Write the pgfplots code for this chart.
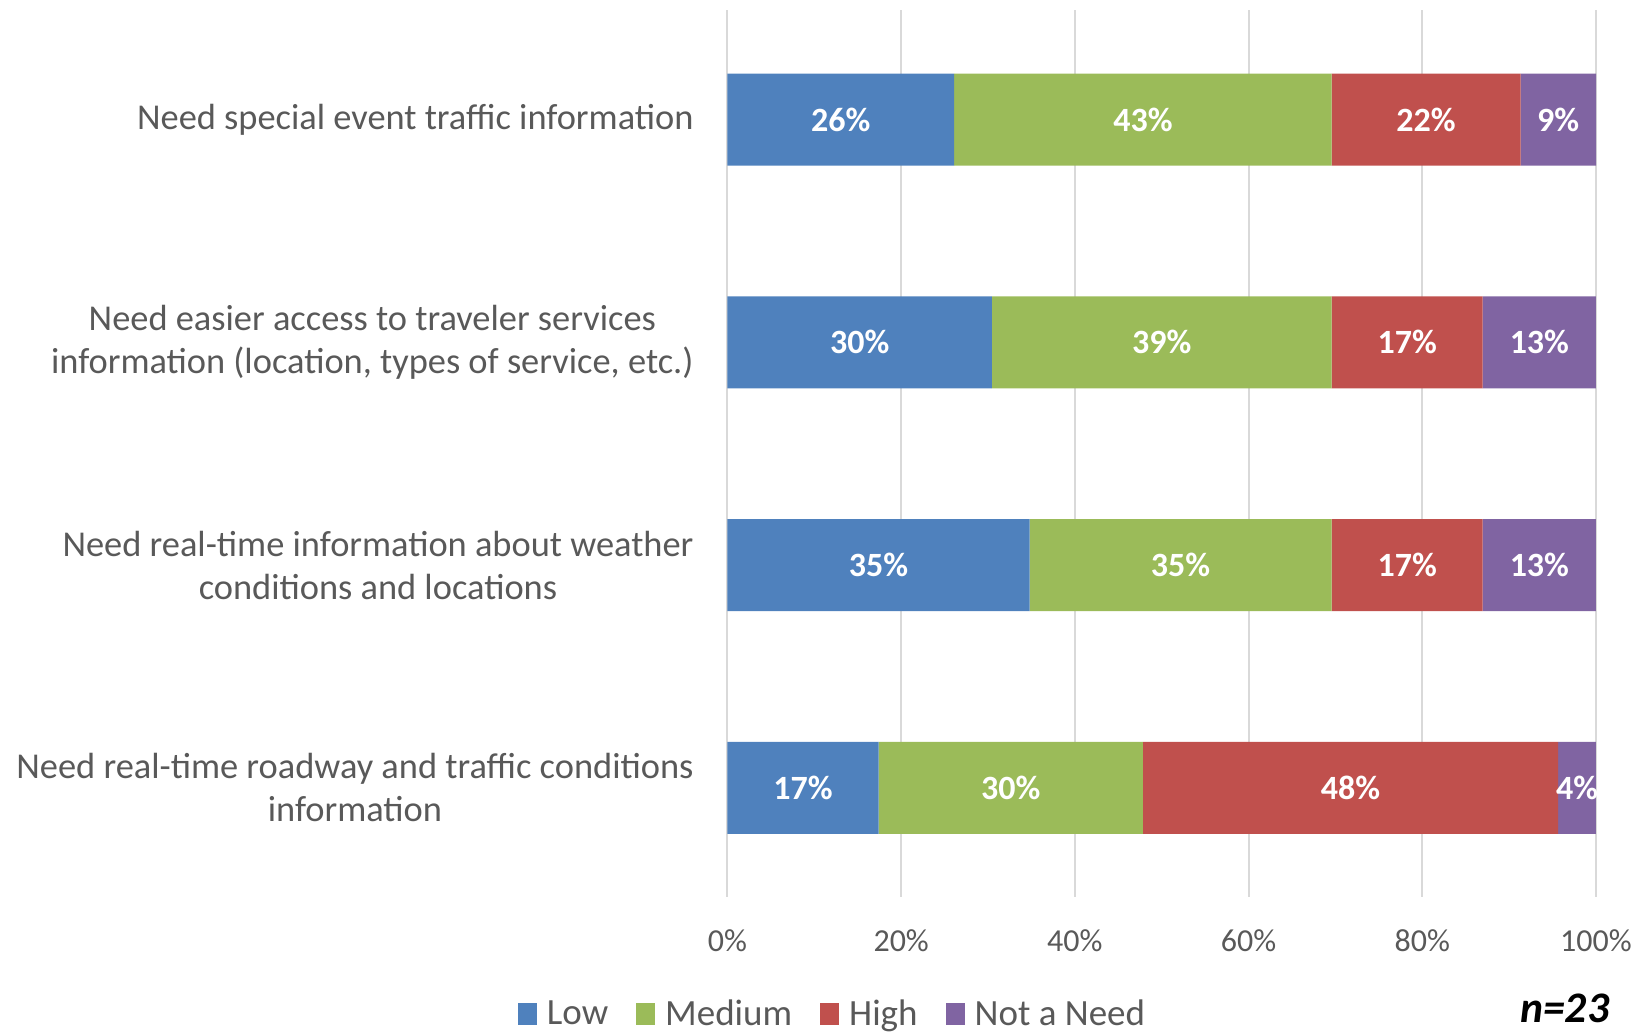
\documentclass[border=0pt]{standalone}
\usepackage{pgfplots}
\pgfplotsset{compat=1.18}
\usepackage{fontspec}
\setmainfont{Carlito}
\definecolor{cLow}{HTML}{4F81BD}
\definecolor{cMed}{HTML}{9BBB59}
\definecolor{cHigh}{HTML}{C0504D}
\definecolor{cNot}{HTML}{8064A2}
\definecolor{gridgray}{HTML}{D9D9D9}
\definecolor{labelgray}{HTML}{595959}
\pgfplotsset{sqleg/.style={legend image code/.code={\fill[##1] (0pt,-5.3pt) rectangle (9.5pt,5.3pt);}}}
\begin{document}
\begin{tikzpicture}
\begin{axis}[name=main,
  xbar stacked, bar width=46pt,
  scale only axis, width=434.25pt, height=443.25pt,
  xmin=0, xmax=100, ymin=-0.49, ymax=3.49,
  xtick={0,20,40,60,80,100},
  xticklabel={\pgfmathprintnumber{\tick}\%},
  xticklabel style={anchor=center, yshift=-22pt, font=\fontsize{16}{19}\selectfont, text=labelgray},
  /pgf/number format/assume math mode=true,
  ytick={0,1,2,3},
  yticklabels={{Need real-time roadway and traffic conditions\\information},
               {Need real-time information about weather\\conditions and locations},
               {Need easier access to traveler services\\information (location, types of service, etc.)},
               {Need special event traffic information}},
  yticklabel style={align=center, font=\fontsize{18.2}{21.5}\selectfont, text=labelgray, xshift=-13.5pt},
  xmajorgrids, grid style={draw=gridgray, line width=1pt},
  axis line style={draw=none}, major tick length=0pt,
  clip=false,
  legend columns=4,
  legend style={draw=none, fill=none, at={(0.122,-0.132)}, anchor=center,
    font=\fontsize{18.5}{21}\selectfont, text=labelgray,
    /tikz/every odd column/.append style={column sep=3pt},
    /tikz/every even column/.append style={column sep=12pt},
    inner sep=0pt, row sep=0pt},
]
\addplot[fill=cLow, draw=none, sqleg] coordinates {(17.39,0) (34.78,1) (30.43,2) (26.09,3)};
\addplot[fill=cMed, draw=none, sqleg] coordinates {(30.43,0) (34.78,1) (39.13,2) (43.48,3)};
\addplot[fill=cHigh, draw=none, sqleg] coordinates {(47.83,0) (17.39,1) (17.39,2) (21.74,3)};
\addplot[fill=cNot, draw=none, sqleg] coordinates {(4.35,0) (13.04,1) (13.04,2) (8.70,3)};
\legend{Low,Medium,High,Not a Need}
\end{axis}
\begin{axis}[at={(main.south west)}, anchor=south west,
  scale only axis, width=434.25pt, height=443.25pt,
  xmin=0, xmax=100, ymin=-0.49, ymax=3.49, hide axis, clip=false]
\addplot[draw=none, mark=none, nodes near coords, point meta=explicit symbolic,
  nodes near coords style={anchor=center, text=white, font=\fontsize{17}{20}\selectfont\bfseries}]
  coordinates {
  (8.70,0) [17\%] (32.61,0) [30\%] (71.74,0) [48\%] (97.83,0) [4\%]
  (17.39,1) [35\%] (52.17,1) [35\%] (78.26,1) [17\%] (93.48,1) [13\%]
  (15.22,2) [30\%] (50.00,2) [39\%] (78.26,2) [17\%] (93.48,2) [13\%]
  (13.04,3) [26\%] (47.83,3) [43\%] (80.43,3) [22\%] (95.65,3) [9\%]
  };
\end{axis}
\node[inner sep=0pt, font=\fontsize{21.8}{26}\selectfont\bfseries\itshape, text=black] at ([xshift=418.6pt, yshift=-55.5pt]main.south west) {n=23};
\pgfresetboundingbox
\path[use as bounding box] ([xshift=-363.75pt, yshift=-67.5pt]main.south west) rectangle ([xshift=21.5pt, yshift=5.25pt]main.north east);
\end{tikzpicture}
\end{document}
